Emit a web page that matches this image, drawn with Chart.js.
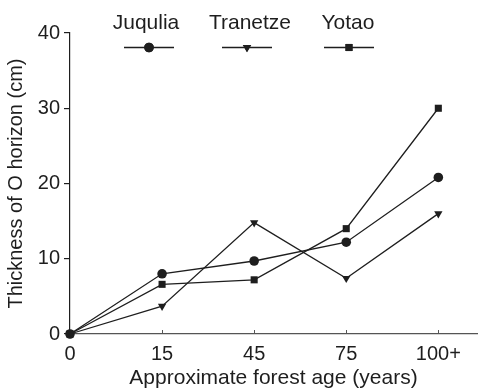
<!DOCTYPE html>
<html>
<head>
<meta charset="utf-8">
<script src="https://cdn.jsdelivr.net/npm/chart.js@4"></script>
<style>
  html, body { margin: 0; padding: 0; background: #fff; }
  #wrap { width: 482px; height: 391px; }
</style>
</head>
<body>
<div id="wrap"><canvas id="chart"></canvas></div>
<script>
// forest age categories (x positions are category indexes)
const ageLabels = ['0', '15', '45', '75', '100+'];
const yTicks = [0, 10, 20, 30, 40];

// thickness of O horizon (cm)
const juqulia = [0, 8.0, 9.7, 12.2, 20.8];
const tranetze = [0, 3.7, 14.8, 7.4, 16.0];
const yotao = [0, 6.6, 7.2, 14.0, 30.0];

const INK = '#1e1e1e';
const FONT = 'Liberation Sans, Arial, sans-serif';

function pts(arr) {
    return arr.map((v, i) => ({ x: i, y: v }));
}

function series(label, values, style, radius, rotation) {
    return {
        label: label,
        data: pts(values),
        borderColor: INK,
        backgroundColor: INK,
        borderWidth: 1.3,
        pointStyle: style,
        pointRadius: radius,
        pointRotation: rotation,
        pointBorderWidth: 0,
        tension: 0,
        clip: false
    };
}

// legend: name on top, line + marker underneath
const legendPlugin = {
    id: 'topLegend',
    afterDraw(chart) {
        const ctx = chart.ctx;
        const textX = [146, 250, 348];
        const lineX = [149, 247, 349];
        ctx.save();
        chart.data.datasets.forEach((ds, i) => {
            const cx = lineX[i];
            ctx.fillStyle = INK;
            ctx.font = '21px ' + FONT;
            ctx.textAlign = 'center';
            ctx.textBaseline = 'middle';
            ctx.fillText(ds.label, textX[i], 23);
            ctx.strokeStyle = INK;
            ctx.lineWidth = 1.3;
            ctx.beginPath();
            ctx.moveTo(cx - 25, 47.5);
            ctx.lineTo(cx + 25, 47.5);
            ctx.stroke();
            Chart.helpers.drawPoint(ctx, {
                pointStyle: ds.pointStyle,
                radius: ds.pointRadius,
                rotation: ds.pointRotation,
                borderWidth: 0
            }, cx, 47.5);
            ctx.fill();
        });
        // small inward ticks on the x axis
        const xs = chart.scales.x;
        const bottom = chart.chartArea.bottom;
        ctx.strokeStyle = '#555';
        ctx.lineWidth = 1;
        ageLabels.forEach((l, i) => {
            if (i === 0) return;
            const px = Math.round(xs.getPixelForValue(i)) + 0.5;
            ctx.beginPath();
            ctx.moveTo(px, bottom);
            ctx.lineTo(px, bottom - 4);
            ctx.stroke();
        });
        ctx.restore();
    }
};

new Chart(document.getElementById('chart'), {
    type: 'line',
    data: {
        datasets: [
            series('Juqulia', juqulia, 'circle', 4.8, 0),
            series('Tranetze', tranetze, 'triangle', 4.8, 180),
            series('Yotao', yotao, 'rect', 5, 0)
        ]
    },
    options: {
        responsive: true,
        maintainAspectRatio: false,
        animation: false,
        layout: { padding: { top: 33, right: 2, left: 0, bottom: 0 } },
        plugins: {
            legend: { display: false },
            tooltip: { enabled: false }
        },
        scales: {
            x: {
                type: 'linear',
                min: 0,
                max: 4.42,
                afterFit(scale) { scale.height = 57; },
                grid: { display: false },
                border: { display: true, color: '#555', width: 1.2 },
                afterBuildTicks(scale) {
                    scale.ticks = ageLabels.map((l, i) => ({ value: i }));
                },
                ticks: {
                    color: INK,
                    font: { family: FONT, size: 20 },
                    padding: 0,
                    maxRotation: 0,
                    callback: (v) => ageLabels[v]
                },
                title: {
                    display: true,
                    text: 'Approximate forest age (years)',
                    color: INK,
                    font: { family: FONT, size: 21 },
                    padding: { top: 0, bottom: 0 }
                }
            },
            y: {
                min: 0,
                max: 40,
                afterFit(scale) { scale.width = 70; },
                afterBuildTicks(scale) {
                    scale.ticks = yTicks.map(v => ({ value: v }));
                },
                grid: {
                    display: true,
                    drawOnChartArea: false,
                    drawTicks: true,
                    tickLength: 6,
                    color: INK,
                    lineWidth: 1.2
                },
                border: { display: true, color: INK, width: 1.2 },
                ticks: {
                    color: INK,
                    font: { family: FONT, size: 20 },
                    padding: 4
                },
                title: {
                    display: true,
                    text: 'Thickness of O horizon (cm)',
                    color: INK,
                    font: { family: FONT, size: 20 },
                    padding: { top: 4, bottom: 0 }
                }
            }
        }
    },
    plugins: [legendPlugin]
});
</script>
</body>
</html>
